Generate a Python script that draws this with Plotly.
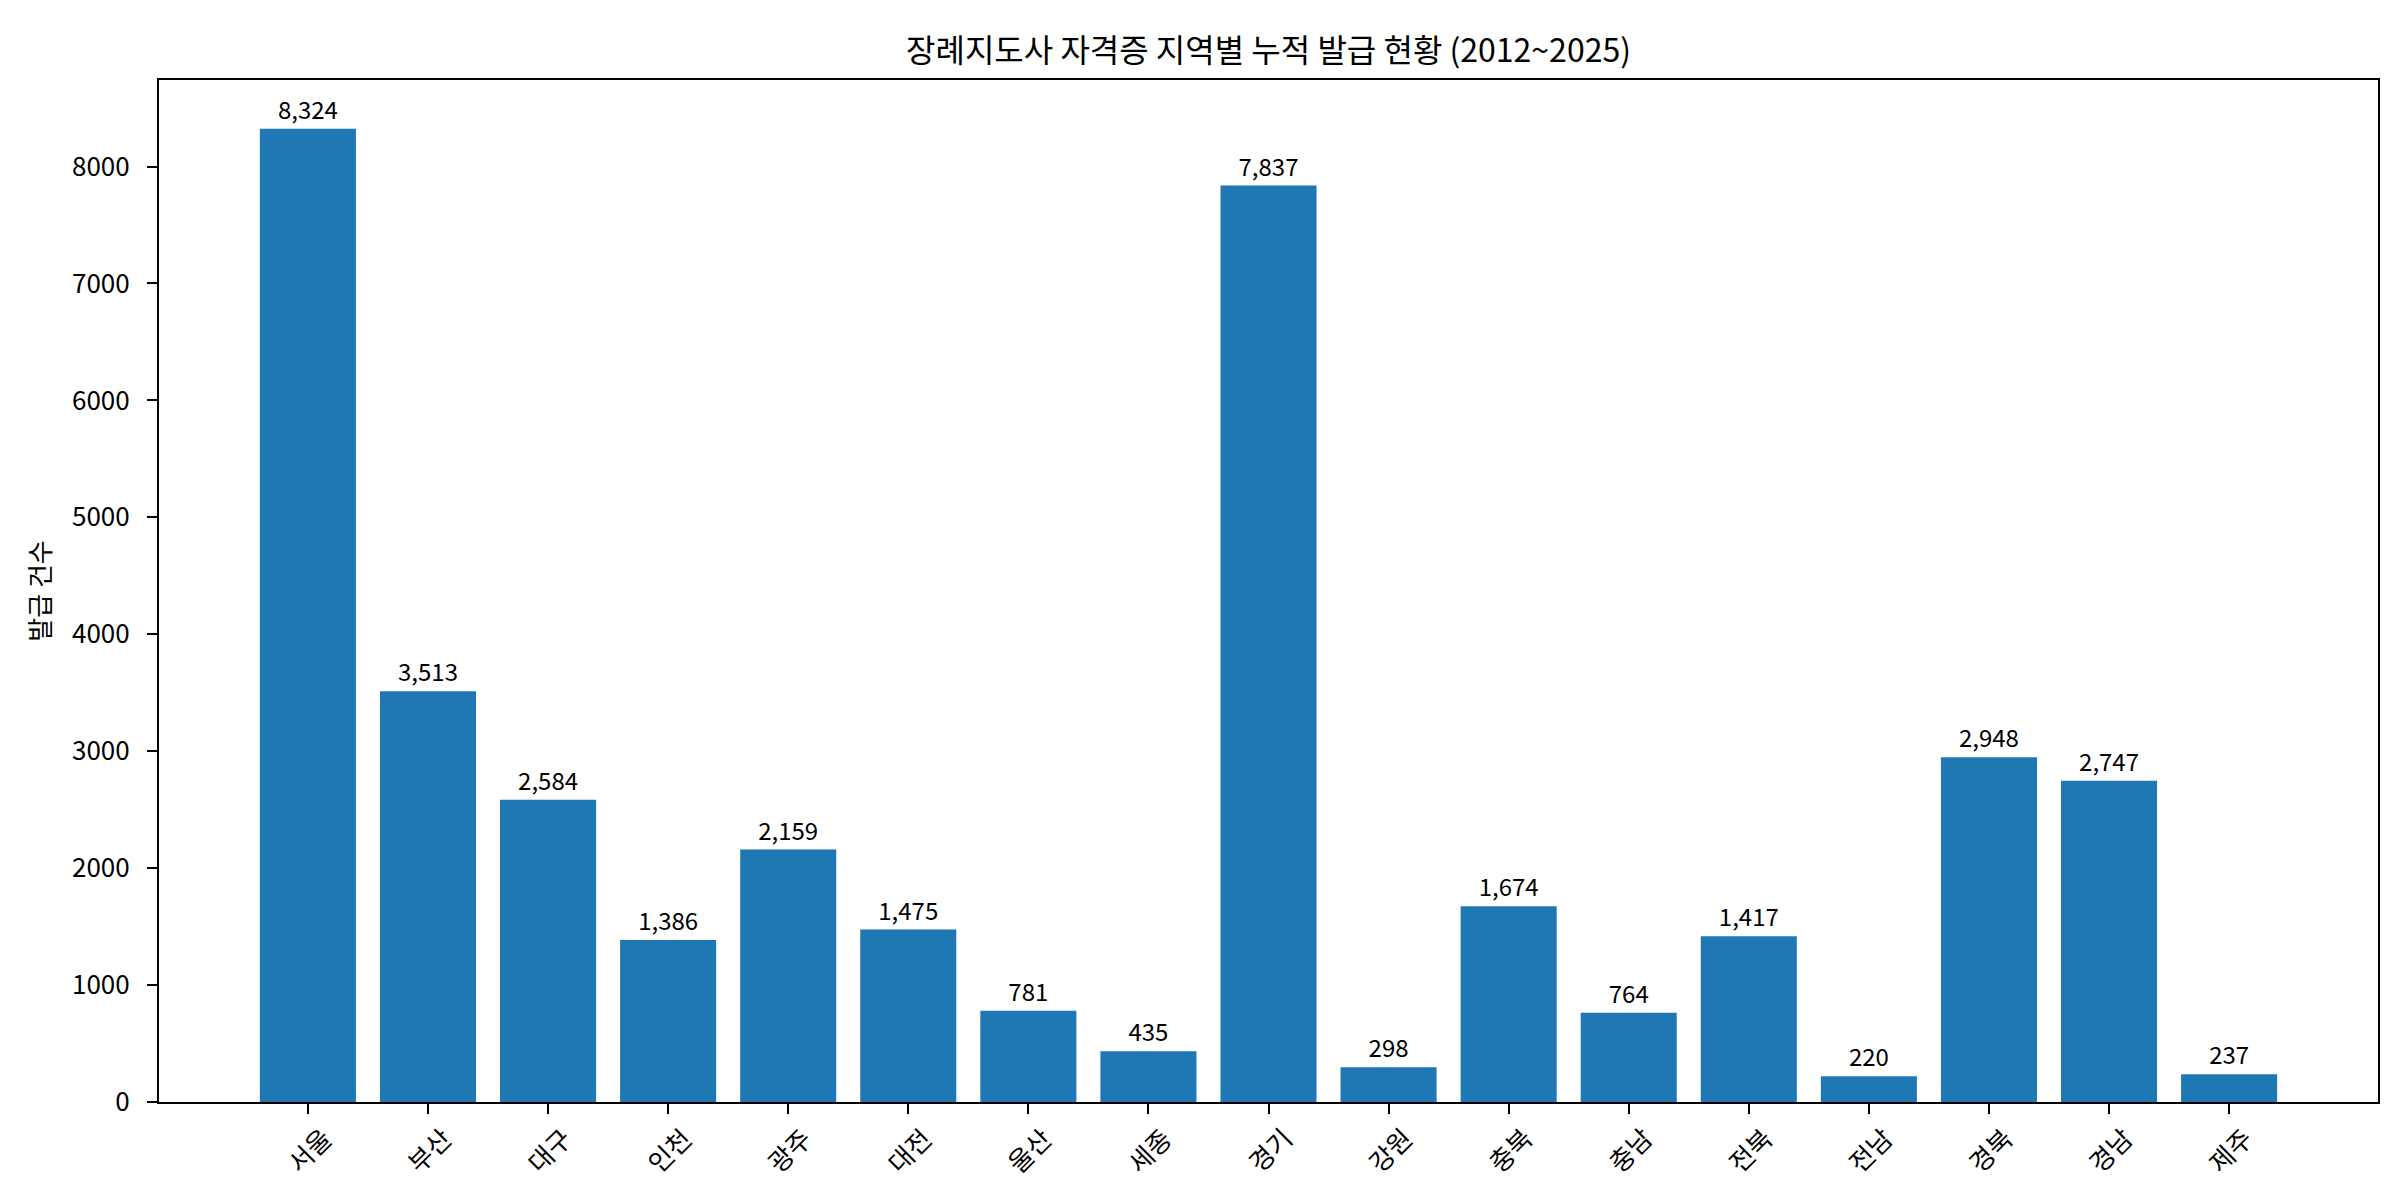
import plotly.graph_objects as go

regions = ["서울", "부산", "대구", "인천", "광주", "대전", "울산", "세종", "경기",
           "강원", "충북", "충남", "전북", "전남", "경북", "경남", "제주"]
counts = [8324, 3513, 2584, 1386, 2159, 1475, 781, 435, 7837,
          298, 1674, 764, 1417, 220, 2948, 2747, 237]
yticks = [0, 1000, 2000, 3000, 4000, 5000, 6000, 7000, 8000]

FONT = "Noto Sans CJK KR"
W, H = 2400, 1200
L, R, T, B = 151, 30, 72, 106
plot_h = H - T - B

fig = go.Figure()
fig.add_trace(go.Bar(
    x=list(range(len(regions))), y=counts, width=0.8,
    marker=dict(color="#1f77b4", line=dict(width=0)),
    text=[f"{v:,}" for v in counts], textposition="outside",
    textfont=dict(family=FONT, size=24, color="black"),
    cliponaxis=False,
))

# rotated category labels centred under each tick
for i, name in enumerate(regions):
    fig.add_annotation(
        x=i, xref="x", y=-(1141 - (H - B)) / plot_h, yref="paper",
        text=name, showarrow=False, textangle=-45,
        xanchor="center", yanchor="middle",
        font=dict(family=FONT, size=26, color="black"),
    )

ymax = max(counts) * 1.05
n = len(regions)
fig.update_layout(
    width=W, height=H,
    margin=dict(l=L, r=R, t=T, b=B, pad=0),
    paper_bgcolor="white", plot_bgcolor="white",
    showlegend=False,
    title=dict(text="장례지도사 자격증 지역별 누적 발급 현황 (2012~2025)",
               x=(L + (W - R)) / 2 / W, xanchor="center",
               y=1 - 43 / H, yanchor="middle", yref="container",
               font=dict(family=FONT, size=32, color="black")),
    font=dict(family=FONT, color="black"),
)
fig.update_xaxes(
    range=[-0.4 - 0.84, n - 1 + 0.4 + 0.84],
    tickmode="array", tickvals=list(range(n)), showticklabels=False,
    ticks="outside", ticklen=10, tickwidth=2.2, tickcolor="black",
    showline=True, linecolor="black", linewidth=2.2, mirror=True,
    showgrid=False, zeroline=False,
)
fig.update_yaxes(
    range=[0, ymax],
    tickmode="array", tickvals=yticks, ticktext=[str(v) for v in yticks],
    ticks="outside", ticklen=10, tickwidth=2.2, tickcolor="black",
    ticklabelstandoff=12,
    tickfont=dict(family=FONT, size=26, color="black"),
    showline=True, linecolor="black", linewidth=2.2, mirror=True,
    showgrid=False, zeroline=False,
    title=dict(text="발급 건수", font=dict(family=FONT, size=26, color="black"), standoff=14),
)
fig.write_html("out.html")
